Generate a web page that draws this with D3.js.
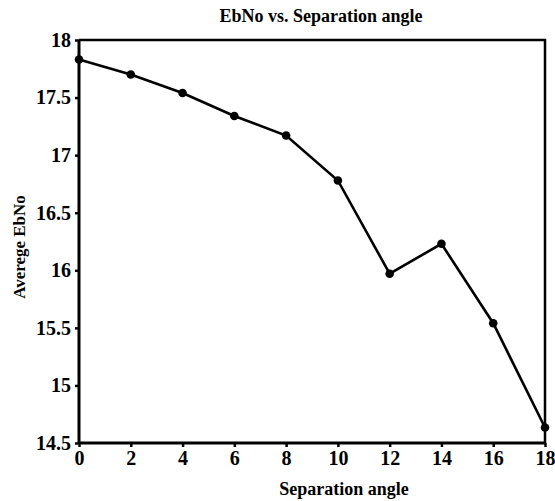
<!DOCTYPE html>
<html>
<head>
<meta charset="utf-8">
<script src="https://cdn.jsdelivr.net/npm/d3@7"></script>
<style>
  html, body { margin: 0; padding: 0; background: #fff; }
</style>
</head>
<body>
<svg id="chart" width="555" height="501"></svg>
<script>
const angles = [0, 2, 4, 6, 8, 10, 12, 14, 16, 18];
const ebno = [17.83, 17.70, 17.54, 17.34, 17.17, 16.78, 15.97, 16.23, 15.54, 14.635];
const xTicks = [0, 2, 4, 6, 8, 10, 12, 14, 16, 18];
const yTicks = [14.5, 15, 15.5, 16, 16.5, 17, 17.5, 18];
const titleText = "EbNo vs. Separation angle";
const xLabel = "Separation angle";
const yLabel = "Averege EbNo";

const FONT = "Liberation Serif";
const svg = d3.select("#chart");
const m = { left: 79, right: 545, top: 40, bottom: 443 };

const x = d3.scaleLinear().domain([0, 18]).range([m.left, m.right]);
const y = d3.scaleLinear().domain([14.5, 18]).range([m.bottom, m.top]);

svg.append("path")
  .attr("d", `M${m.left},${m.top}H${m.right}V${m.bottom}`)
  .attr("fill", "none").attr("stroke", "#000").attr("stroke-width", 2.5);

const xAxis = svg.append("g").attr("transform", `translate(0,${m.bottom})`)
  .call(d3.axisBottom(x).tickValues(xTicks).tickSize(4).tickPadding(4).tickFormat(d => String(d)));
const yAxis = svg.append("g").attr("transform", `translate(${m.left},0)`)
  .call(d3.axisLeft(y).tickValues(yTicks).tickSize(4).tickPadding(4).tickFormat(d => String(d)));

[xAxis, yAxis].forEach(g => {
  g.attr("font-family", FONT).attr("font-size", 20).attr("font-weight", "bold");
  g.select(".domain").attr("stroke", "#000").attr("stroke-width", 3);
  g.selectAll(".tick line").attr("stroke", "#000").attr("stroke-width", 2.5);
  g.selectAll(".tick text").attr("fill", "#000");
});
xAxis.select(".domain").attr("d", `M${m.left},0H${m.right}`);
yAxis.select(".domain").attr("d", `M0,${m.bottom}V${m.top}`);

const line = d3.line().x((d, i) => x(angles[i])).y(d => y(d));
svg.append("path").datum(ebno)
  .attr("d", line).attr("fill", "none").attr("stroke", "#000").attr("stroke-width", 2.6);

svg.append("g").selectAll("circle").data(ebno).join("circle")
  .attr("cx", (d, i) => x(angles[i])).attr("cy", d => y(d)).attr("r", 4.3).attr("fill", "#000");

function label(sel, size) {
  return sel.attr("font-family", FONT).attr("font-weight", "bold").attr("font-size", size).attr("fill", "#000");
}
label(svg.append("text").attr("x", 321).attr("y", 22).attr("text-anchor", "middle"), 18).text(titleText);
label(svg.append("text").attr("x", 344).attr("y", 495).attr("text-anchor", "middle"), 18).text(xLabel);
label(svg.append("text").attr("transform", "translate(25,247) rotate(-90)").attr("text-anchor", "middle"), 17).text(yLabel);
</script>
</body>
</html>
